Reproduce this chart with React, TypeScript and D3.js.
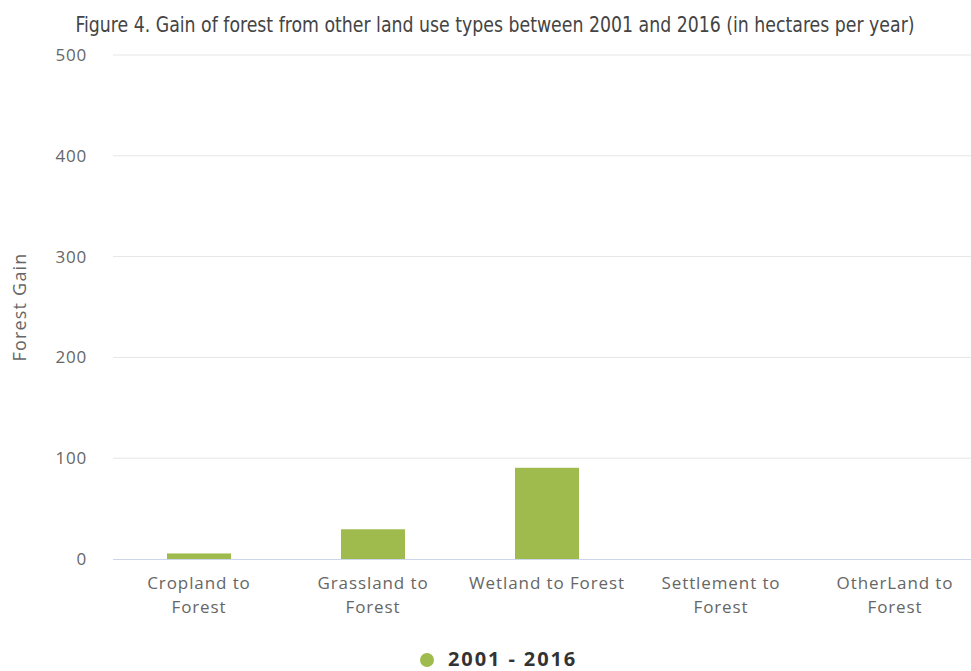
import React from "react";
import * as d3 from "d3";

const categories = [
  ["Cropland to", "Forest"],
  ["Grassland to", "Forest"],
  ["Wetland to Forest"],
  ["Settlement to", "Forest"],
  ["OtherLand to", "Forest"],
];
const values = [5.5, 29.5, 90.5, 0, 0];
const yTicks = [0, 100, 200, 300, 400, 500];
const seriesName = "2001 - 2016";
const title = "Figure 4. Gain of forest from other land use types between 2001 and 2016 (in hectares per year)";

export default function App() {
  const W = 971, H = 671;
  const left = 112, right = 982, top = 55, bottom = 559;
  const x = d3.scaleBand<number>().domain(d3.range(categories.length)).range([left, right]).paddingInner(0.632).paddingOuter(0.316);
  const y = d3.scaleLinear().domain([0, 500]).range([bottom, top]);
  const font = "'Open Sans', 'DejaVu Sans', sans-serif";
  return (
    <svg width={W} height={H} style={{ position: "absolute", left: 0, top: 0 }}>
      <text x={495} y={32} textAnchor="middle" fontFamily="'Liberation Sans Narrow', 'DejaVu Sans Condensed', sans-serif" fontSize={22} fill="#444" transform="translate(495,0) scale(0.876,1) translate(-495,0)">{title}</text>
      {yTicks.map((t) => (
        <g key={t}>
          {t !== 0 && <line x1={left + 1} x2={W} y1={y(t)} y2={y(t)} stroke="#e6e6e6" strokeWidth={1} />}
          <text x={87} y={y(t) + 6} textAnchor="end" fontFamily={font} fontSize={17} letterSpacing={0.8} fill="#666">{t}</text>
        </g>
      ))}
      <text transform={`translate(26,${(top + bottom) / 2}) rotate(-90)`} textAnchor="middle" fontFamily={font} fontSize={18} letterSpacing={1.2} fill="#666">Forest Gain</text>
      {values.map((v, i) => (
        <rect key={i} x={x(i)} y={y(v)} width={x.bandwidth()} height={bottom - y(v)} fill="#9fbb4e" />
      ))}
      <line x1={left + 1} x2={W} y1={bottom + 0.5} y2={bottom + 0.5} stroke="#ccd6eb" strokeWidth={1} />
      {categories.map((lines, i) => {
        const cx = (x(i) as number) + x.bandwidth() / 2;
        return (
          <text key={i} x={cx} y={589} textAnchor="middle" fontFamily={font} fontSize={17} letterSpacing={0.9} fill="#666">
            {lines.map((l, j) => (
              <tspan key={j} x={cx} dy={j === 0 ? 0 : 24}>{l}</tspan>
            ))}
          </text>
        );
      })}
      <circle cx={427} cy={660} r={7} fill="#9fbb4e" />
      <text x={448} y={666} fontFamily={font} fontSize={20} letterSpacing={1.9} fontWeight="bold" fill="#333">{seriesName}</text>
    </svg>
  );
}
